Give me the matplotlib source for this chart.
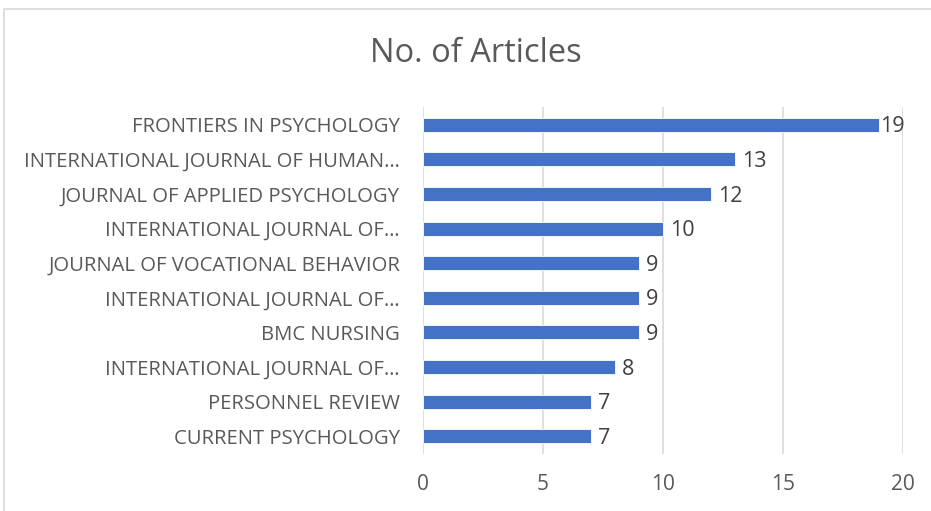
import matplotlib
matplotlib.use("Agg")
import matplotlib.pyplot as plt

journals = [
    "FRONTIERS IN PSYCHOLOGY",
    "INTERNATIONAL JOURNAL OF HUMAN…",
    "JOURNAL OF APPLIED PSYCHOLOGY",
    "INTERNATIONAL JOURNAL OF…",
    "JOURNAL OF VOCATIONAL BEHAVIOR",
    "INTERNATIONAL JOURNAL OF…",
    "BMC NURSING",
    "INTERNATIONAL JOURNAL OF…",
    "PERSONNEL REVIEW",
    "CURRENT PSYCHOLOGY",
]
articles = [19, 13, 12, 10, 9, 9, 9, 8, 7, 7]
xticks = [0, 5, 10, 15, 20]

plt.rcParams['font.family'] = ['Open Sans', 'DejaVu Sans']

fig = plt.figure(figsize=(9.31, 5.11), dpi=100)
ax = fig.add_axes([423/931, 1-453.5/511, 480/931, 346/511])

ypos = list(range(len(journals)))
ax.barh(ypos, articles, height=0.41, color='#4472C4', edgecolor='white', linewidth=0.6, zorder=3)
ax.set_ylim(len(journals)-0.5, -0.5)
ax.set_xlim(0, 20)
ax.set_xticks(xticks)
ax.set_xticklabels([str(t) for t in xticks])
ax.set_yticks(ypos)
ax.set_yticklabels(journals)
ax.tick_params(axis='both', length=0, colors='#595959')
ax.tick_params(axis='y', pad=16.5, labelsize=14.6)
ax.tick_params(axis='x', pad=15, labelsize=15)
ax.grid(axis='x', color='#d9d9d9', linewidth=1.2, zorder=0)
for s in ax.spines.values():
    s.set_visible(False)

for y, v in zip(ypos, articles):
    ax.annotate(str(v), (v, y), xytext=(1 if v >= 19 else 5, -1.5), textcoords='offset points',
                ha='left', va='center', fontsize=15.5, color='#404040')

fig.text(476/931, 1-54/511, "No. of Articles", ha='center', va='center', fontsize=23.5, color='#595959')

# chart border
border = plt.Rectangle((4/931, -0.05), 1.0, 1-9/511+0.05, transform=fig.transFigure,
                       fill=False, edgecolor='#d9d9d9', linewidth=1.2)
fig.add_artist(border)

fig.savefig("out.png", dpi=100, facecolor='white')
